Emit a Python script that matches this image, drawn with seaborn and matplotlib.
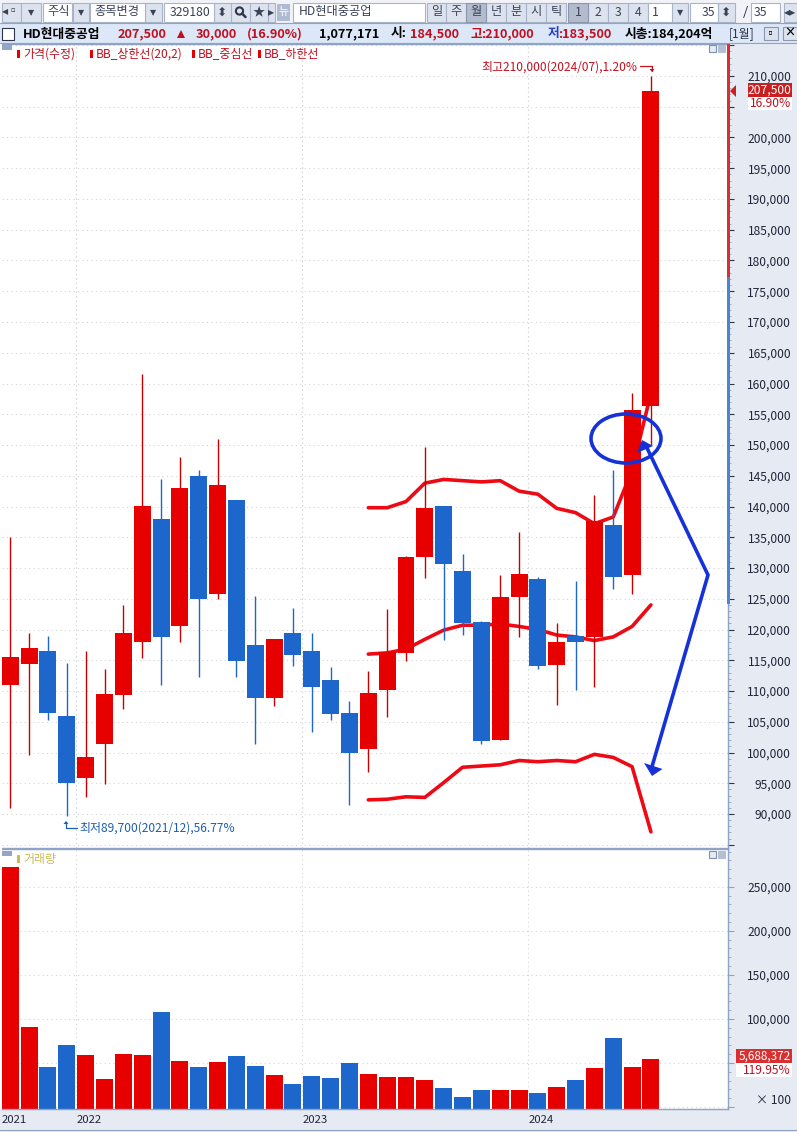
import matplotlib
matplotlib.use('Agg')
import matplotlib.pyplot as plt
from matplotlib.patches import Rectangle, Ellipse, Polygon, Circle
from matplotlib.ticker import MultipleLocator, FuncFormatter
import numpy as np
import pandas as pd
import seaborn as sns

# monthly candles
high = [135000, 119400, 118900, 114500, 116500, 113600, 124000, 161500, 144500, 148000, 145900, 151000,
        141000, 125400, 118500, 123500, 119400, 113900, 108400, 113300, 123300, 132000, 149700, 140100,
        132300, 121400, 128900, 135900, 128500, 121100, 127900, 141900, 145900, 158400, 210000]
body_top = [115500, 117000, 116500, 105900, 99300, 109500, 119400, 140100, 138000, 143000, 145000, 143500,
            141000, 117500, 118500, 119400, 116500, 111800, 106400, 109700, 116300, 131800, 139800, 140100,
            129500, 121200, 125300, 129000, 128200, 118000, 118900, 137600, 137000, 155700, 207500]
body_bot = [110900, 114400, 106500, 95100, 95900, 101400, 109400, 117900, 118800, 120500, 124900, 125800,
            114900, 108900, 108900, 115900, 110700, 106300, 100000, 100600, 110100, 116200, 131800, 130700,
            121100, 101900, 102100, 125300, 114000, 114300, 117900, 118800, 128600, 128900, 156400]
low = [90900, 99600, 105300, 89700, 92700, 94800, 107000, 115400, 110900, 117900, 112300, 124900,
       112300, 101400, 107500, 114000, 103400, 105300, 91400, 96900, 105800, 114900, 128400, 118300,
       119100, 101400, 102100, 118800, 113500, 107800, 110100, 110700, 126600, 125800, 150000]
updown = ['u', 'u', 'd', 'd', 'u', 'u', 'u', 'u', 'd', 'u', 'd', 'u', 'd', 'd', 'u', 'd', 'd', 'd', 'd',
          'u', 'u', 'u', 'u', 'd', 'd', 'd', 'u', 'u', 'd', 'u', 'd', 'u', 'd', 'u', 'u']

# bollinger bands start at the 20th candle
bb_upper = [139800, 139800, 140800, 143800, 144400, 144200, 144000, 144200, 142500, 142000, 139700, 139000,
            137200, 138300, 145900, 158400]
bb_mid = [116000, 116200, 116800, 118400, 119900, 120700, 120700, 120900, 120500, 120000, 119100, 118800,
          118200, 118800, 120500, 124000]
bb_lower = [92300, 92400, 92800, 92700, 95100, 97600, 97800, 98000, 98700, 98500, 98700, 98500,
            99700, 99200, 97700, 87100]

volume = [273100, 91300, 45800, 70800, 59500, 32200, 60600, 59500, 108300, 52700, 45800, 51500,
          58300, 47000, 36700, 26500, 35600, 33300, 50400, 37900, 34500, 34500, 31100, 22000,
          11700, 19700, 19700, 19700, 16300, 23100, 31100, 44700, 78800, 45800, 54900]

year_pos = [-0.44, 3.5, 15.5, 27.5]
year_labels = ['2021', '2022', '2023', '2024']

RED = '#E60000'
BLUE = '#1C66CC'
RED_TXT = '#C01020'
GRID = '#D4D4D4'
FRAME = '#8FA3C4'
PANEL = '#E6EAF3'
INK = '#22263A'
ARROW = '#1432D8'

W, H = 797, 1132
sns.set_theme(style='white')
plt.rcParams['font.family'] = ['Noto Sans CJK KR', 'DejaVu Sans']

fig = plt.figure(figsize=(W / 100, H / 100), dpi=100, facecolor=PANEL)


def pane(x0, y0, x1, y1):
    return fig.add_axes([x0 / W, 1 - y1 / H, (x1 - x0) / W, (y1 - y0) / H])


def price_label(v, p):
    # 205,000 sits under the current price tag in the original
    if v < 90000 or v > 210000 or v == 205000:
        return ''
    return f'{int(v):,}'


idx = np.arange(len(high))
is_up = np.array(updown) == 'u'
top = np.array(body_top)
bot = np.array(body_bot)
bb_idx = idx[-len(bb_mid):]
xlim = (-0.44, 38.09)

# price pane
ax = pane(2, 44, 728, 848)
ax.set_facecolor('white')
ax.vlines(idx[is_up], np.array(low)[is_up], np.array(high)[is_up], color='#C80000', lw=1, zorder=1.5)
ax.vlines(idx[~is_up], np.array(low)[~is_up], np.array(high)[~is_up], color=BLUE, lw=1, zorder=1.5)
for band in (bb_upper, bb_mid, bb_lower):
    sns.lineplot(x=bb_idx, y=band, color='#EE0A14', lw=2.6, ax=ax, zorder=1.2, errorbar=None)
for mask, col in ((is_up, RED), (~is_up, BLUE)):
    sns.barplot(x=idx[mask], y=(top - bot)[mask], bottom=bot[mask], color=col, saturation=1, width=0.9,
                native_scale=True, linewidth=0, errorbar=None, ax=ax, zorder=2)
ax.set_xlim(*xlim)
ax.set_ylim(84472, 215203)
ax.set_xlabel('')
ax.set_ylabel('')
ax.yaxis.set_major_locator(MultipleLocator(5000))
ax.yaxis.set_minor_locator(MultipleLocator(1000))
ax.yaxis.set_major_formatter(FuncFormatter(price_label))
ax.yaxis.tick_right()
ax.set_xticks(year_pos[1:])
ax.tick_params(axis='x', length=0, labelbottom=False)
ax.tick_params(axis='y', which='major', length=4, width=0.8, color='#30364A', pad=41.5, labelsize=8.7,
               labelcolor=INK, direction='out')
ax.tick_params(axis='y', which='minor', length=2, width=0.6, color=FRAME, direction='out')
for lab in ax.get_yticklabels():
    lab.set_ha('right')
ax.grid(True, which='major', color=GRID, ls=(0, (1, 3)), lw=0.8)
ax.set_axisbelow(True)
for s in ax.spines.values():
    s.set_color(FRAME)
    s.set_linewidth(1)
ax.spines['left'].set_visible(False)

ax.text(33.26, 211500, '최고210,000(2024/07),1.20%', color=RED_TXT, fontsize=8.6, ha='right', va='center', zorder=5)
ax.text(3.65, 87700, '최저89,700(2021/12),56.77%', color='#1C5FB0', fontsize=8.6, ha='left', va='center', zorder=5)

# volume pane
vx = pane(2, 849, 728, 1109)
vx.set_facecolor('white')
vol_df = pd.DataFrame({'idx': idx, 'volume': volume, 'updown': updown})
sns.barplot(data=vol_df, x='idx', y='volume', hue='updown', palette={'u': RED, 'd': BLUE}, saturation=1,
            width=0.9, dodge=False, native_scale=True, linewidth=0, errorbar=None, legend=False, ax=vx, zorder=2)
for bar in vx.patches:
    bar.set_height(bar.get_height() + 2300)
    bar.set_y(-2300)
vx.set_xlim(*xlim)
vx.set_ylim(-2300, 293000)
vx.set_xlabel('')
vx.set_ylabel('')
vx.yaxis.set_major_locator(MultipleLocator(50000))
vx.yaxis.set_minor_locator(MultipleLocator(10000))
vx.yaxis.set_major_formatter(FuncFormatter(lambda v, p: f'{int(v):,}' if v >= 100000 else ''))
vx.yaxis.tick_right()
vx.set_xticks(year_pos)
vx.set_xticklabels(year_labels, ha='left', color=INK, fontsize=8.2)
vx.tick_params(axis='x', length=5, width=0.8, color=FRAME, pad=-1, direction='out')
vx.tick_params(axis='y', which='major', length=4, width=0.8, color=FRAME, pad=41.5, labelsize=8.7,
               labelcolor=INK, direction='out')
vx.tick_params(axis='y', which='minor', length=2, width=0.6, color=FRAME, direction='out')
for lab in vx.get_yticklabels():
    lab.set_ha('right')
vx.grid(True, axis='y', which='major', color=GRID, ls=(0, (1, 3)), lw=0.8)
vx.set_axisbelow(True)
for s in vx.spines.values():
    s.set_color(FRAME)
    s.set_linewidth(1)
vx.spines['left'].set_visible(False)
for xp in year_pos[1:]:
    ax.axvline(xp, color=GRID, ls=(0, (1, 3)), lw=0.8, zorder=0)
    vx.axvline(xp, color=GRID, ls=(0, (1, 3)), lw=0.8, zorder=0)

# everything around the chart is placed in screen pixels
ui = fig.add_axes([0, 0, 1, 1], zorder=10)
ui.set_xlim(0, W)
ui.set_ylim(H, 0)
ui.axis('off')
ui.patch.set_alpha(0)


def box(x0, y0, x1, y1, fc, ec='none', lw=0.8, **kw):
    ui.add_patch(Rectangle((x0, y0), x1 - x0, y1 - y0, fc=fc, ec=ec, lw=lw, **kw))


def label(x, y, s, color=INK, size=8.8, ha='left', **kw):
    ui.text(x, y, s, color=color, fontsize=size, ha=ha, va='center', **kw)


# toolbar
box(0, 0, W, 23, '#F1F3F8')
box(0, 23, W, 43, '#DCE7F7')
box(0, 44, 2, 1109, 'white')
ui.plot([0, W], [23, 23], color=FRAME, lw=0.8)
ui.plot([0, W], [43, 43], color=FRAME, lw=0.8)
ui.plot([0, W], [1130, 1130], color=FRAME, lw=0.8)
for x0, x1, s in [(2, 21, '◂▫'), (21, 41, '▾'), (73, 89, '▾'), (145, 162, '▾'), (214, 231, '⬍'), (231, 250, ''),
                  (250, 268, '★'), (268, 275, '▸'), (427, 446, '일'), (446, 466, '주'), (486, 506, '년'),
                  (506, 526, '분'), (526, 546, '시'), (546, 566, '틱'), (588, 608, '2'), (608, 628, '3'),
                  (628, 648, '4'), (672, 688, '▾'), (718, 735, '⬍'), (784, 797, '◂▸')]:
    box(x0, 3, x1, 22, '#DDE3EE', ec='#A9B4C8')
    label((x0 + x1) / 2, 12, s, size=8.8, ha='center', color='#3A4258')
# magnifier button
ui.add_patch(Circle((239.5, 11), 3.6, fc='none', ec='#30364A', lw=1.5))
ui.plot([242, 245.5], [13.5, 17], color='#30364A', lw=1.8)
for x0, x1, s in [(466, 486, '월'), (568, 588, '1')]:
    box(x0, 3, x1, 22, '#B3BCCD', ec='#8C97AD')
    label((x0 + x1) / 2, 12, s, size=8.8, ha='center', color='#3A4258')
box(277, 4, 290, 21, '#AEBBD2')
label(283.5, 12, '뉴', size=8, ha='center', color='white')
for x0, x1, s, tx, ha in [(43, 72, '주식', 47, 'left'), (90, 145, '종목변경', 94, 'left'), (164, 214, '329180', 170, 'left'),
                          (293, 425, 'HD현대중공업', 299, 'left'), (648, 672, '1', 652, 'left'),
                          (690, 718, '35', 715, 'right'), (751, 780, '35', 754, 'left')]:
    box(x0, 3, x1, 22, 'white', ec='#A9B4C8')
    label(tx, 12, s, ha=ha, color='#3A4258')
label(745, 12, '/', size=9.5, ha='center')

# info row
box(2, 28, 14, 40, 'white', ec='#30364A')
row = 'bold'
label(23, 34, 'HD현대중공업', color='black', weight=row, size=9.2)
label(118, 34, '207,500', color=RED_TXT, weight=row, size=9.2)
ui.add_patch(Polygon([(177, 38), (185, 38), (181, 30)], fc=RED_TXT, ec='none'))
label(196, 34, '30,000', color=RED_TXT, weight=row, size=9.2)
label(247, 34, '(16.90%)', color=RED_TXT, weight=row, size=9.2)
label(319, 34, '1,077,171', color='black', weight=row, size=9.2)
label(391, 34, '시:', color='black', weight=row, size=9.2)
label(410, 34, '184,500', color=RED_TXT, weight=row, size=9.2)
label(471, 34, '고', color=RED_TXT, weight=row, size=9.2)
label(481, 34, ':210,000', color=RED_TXT, weight=row, size=9.2)
label(548, 34, '저', color='#2840D0', weight=row, size=9.2)
label(558, 34, ':183,500', color=RED_TXT, weight=row, size=9.2)
label(625, 34, '시총:184,204억', color='black', weight=row, size=9.2)
label(729, 34, '[1월]', color='#30364A', size=8.6)
for x0, s in [(764, '▫'), (783, '×')]:
    box(x0, 27, x0 + 14, 40, '#DDE3EE', ec='#8C97AD')
    label(x0 + 7, 33.5, s, ha='center', size=8, weight='bold', color='black')

# pane legends
box(2, 45, 12, 50, '#94A5C8')
box(2, 851, 12, 856, '#94A5C8')
for mx, tx, s in [(17, 23, '가격(수정)'), (90, 96, 'BB_상한선(20,2)'), (192, 198, 'BB_중심선'), (258, 264, 'BB_하한선')]:
    box(mx, 50, mx + 3, 58, RED)
    label(tx, 54, s, color=RED_TXT, size=8.6)
box(17, 855, 20, 863, '#C8BC50')
label(23, 859, '거래량', color='#C8BC50', size=8.6)
for py in (45, 851):
    box(709, py, 716, py + 7, '#E6EAF3', ec='#7F90AE')
    box(718, py, 725, py + 7, '#B4BFD2', ec='#B4BFD2')

# strip beside the price pane and current value tags
box(727, 44, 730, 277, '#D83030')
box(727, 277, 730, 604, '#4A86CC')
ui.add_patch(Polygon([(730, 91), (736, 85), (736, 97)], fc='#C82020', ec='none'))
box(748, 83, 792, 97, '#C82020')
label(791, 90, '207,500', color='white', ha='right', size=8.7)
box(748, 97, 792, 110, 'white')
label(791, 103.5, '16.90%', color=RED_TXT, ha='right', size=8.7)
box(736, 1049, 792, 1063, '#D83030')
label(791, 1056, '5,688,372', color='white', ha='right', size=8.5)
box(736, 1063, 792, 1077, 'white')
label(791, 1070, '119.95%', color=RED_TXT, ha='right', size=8.7)
label(791, 1100, '× 100', ha='right', size=8.7)

# little arrows next to the high and low notes
ui.plot([640, 652, 652], [66, 66, 71], color=RED_TXT, lw=0.9)
ui.add_patch(Polygon([(649.5, 69), (654.5, 69), (652, 72)], fc=RED_TXT, ec='none'))
ui.plot([66, 66, 77], [822, 828, 828], color='#1C5FB0', lw=0.9)
ui.add_patch(Polygon([(63.5, 824), (68.5, 824), (66, 821)], fc='#1C5FB0', ec='none'))

# hand drawn markup
ui.add_patch(Ellipse((626, 438.5), 70, 49, fc='none', ec=ARROW, lw=2.6))
ui.plot([647, 708, 651], [448, 575, 770], color=ARROW, lw=2.6, solid_joinstyle='miter')
ui.add_patch(Polygon([(637, 453), (642, 440), (653, 446)], fc=ARROW, ec='none'))
ui.add_patch(Polygon([(644, 763), (662.5, 769), (652, 776)], fc=ARROW, ec='none'))

fig.savefig('out.png', dpi=100, facecolor=fig.get_facecolor())
